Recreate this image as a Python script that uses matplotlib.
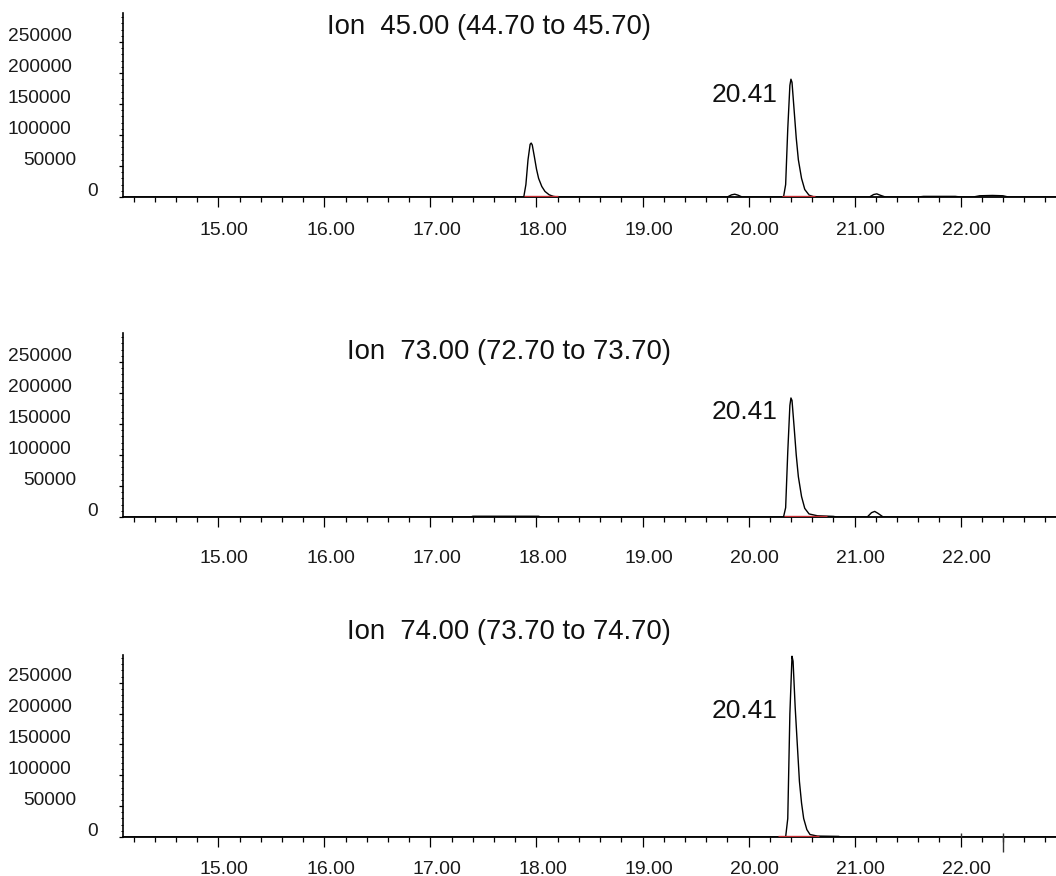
import matplotlib
matplotlib.use("Agg")
import matplotlib.pyplot as plt
from matplotlib.transforms import ScaledTranslation
from matplotlib.ticker import MultipleLocator

plt.rcParams['font.family'] = ['Liberation Sans', 'DejaVu Sans']

titles = ['Ion  45.00 (44.70 to 45.70)', 'Ion  73.00 (72.70 to 73.70)', 'Ion  74.00 (73.70 to 74.70)']

rt_45 = [14.10, 17.88, 17.90, 17.92, 17.94, 17.95, 17.96, 17.98, 18.00, 18.02, 18.05, 18.08, 18.12, 18.16, 18.20,
         19.80, 19.84, 19.87, 19.90, 19.94,
         20.33, 20.35, 20.37, 20.39, 20.40, 20.41, 20.43, 20.45, 20.47, 20.50, 20.53, 20.57, 20.62,
         21.14, 21.18, 21.21, 21.24, 21.29, 21.60, 21.65, 21.95, 22.00,
         22.12, 22.18, 22.30, 22.40, 22.45, 22.90]
int_45 = [0, 0, 20000, 60000, 85000, 87000, 84000, 65000, 45000, 30000, 17000, 9000, 3500, 1000, 0,
          0, 3500, 4500, 3000, 0,
          0, 20000, 110000, 180000, 190000, 185000, 140000, 95000, 60000, 30000, 12000, 3000, 0,
          0, 4000, 5000, 3000, 0, 0, 1000, 1000, 0,
          0, 2000, 2500, 2000, 0, 0]

rt_73 = [14.10, 17.38, 17.40, 18.02, 18.04,
         20.33, 20.35, 20.37, 20.39, 20.40, 20.41, 20.43, 20.45, 20.47, 20.50, 20.53, 20.57, 20.65, 20.80, 20.83,
         21.12, 21.16, 21.19, 21.22, 21.27, 22.90]
int_73 = [0, 0, 1200, 1200, 0,
          0, 15000, 105000, 180000, 192000, 188000, 145000, 100000, 65000, 33000, 14000, 5000, 2000, 1000, 0,
          0, 7000, 9000, 6000, 0, 0]

rt_74 = [14.10, 20.35, 20.37, 20.39, 20.41, 20.42, 20.44, 20.46, 20.48, 20.50, 20.52, 20.55, 20.58, 20.65,
         20.85, 20.87, 22.90]
int_74 = [0, 0, 30000, 200000, 293000, 285000, 210000, 150000, 90000, 55000, 30000, 12000, 4000, 1500,
          1000, 0, 0]

traces = [(rt_45, int_45), (rt_73, int_73), (rt_74, int_74)]

# integrated peak baselines (start, end)
baselines = [[(17.88, 18.20), (20.32, 20.63)],
             [(20.33, 20.74)],
             [(20.28, 20.66)]]

peak_rt = ['20.41', '20.41', '20.41']
label_y = [164500, 169000, 205000]
event_marks = [[], [], [22.0, 22.4]]

ymax = [296800, 296800, 295000]
yticks = [0, 50000, 100000, 150000, 200000, 250000]
xticks = [15, 16, 17, 18, 19, 20, 21, 22]

# layout in pixels (bottom of axes, height), title placement
ax_rect = [(197, 184), (517, 184), (837, 182)]
title_pos = [(0.2186, 0.924), (0.2401, 0.897), (0.2401, 1.126)]
xlab_pad = [10.5, 16.5, 9.5]

fig = plt.figure(figsize=(10.56, 8.76), dpi=100)

for i in range(3):
    base, h = ax_rect[i]
    ax = fig.add_axes([123 / 1056, (876 - base) / 876, 933 / 1056, h / 876])
    rt, inten = traces[i]
    ax.plot(rt, inten, color='black', lw=1.0, zorder=3)
    for s, e in baselines[i]:
        ax.plot([s, e], [0, 0], color='#c0282d', lw=2.4, zorder=4, solid_capstyle='butt')
    for m in event_marks[i]:
        ax.vlines(m, -24000 if m > 22.1 else 0, 7000, color='#333333', lw=1.0, clip_on=False, zorder=5)

    ax.set_xlim(14.1, 22.9)
    ax.set_ylim(0, ymax[i])
    for sp in ['top', 'right']:
        ax.spines[sp].set_visible(False)
    ax.spines['left'].set_linewidth(1.2)
    ax.spines['bottom'].set_linewidth(1.3)

    ax.set_xticks(xticks)
    ax.set_xticklabels(['%.2f' % v for v in xticks])
    ax.xaxis.set_minor_locator(MultipleLocator(0.2))
    ax.set_yticks(yticks)
    ax.set_yticklabels([str(v) for v in yticks])
    ax.yaxis.set_minor_locator(MultipleLocator(10000))

    ax.tick_params(axis='x', which='major', direction='out', length=7.5, width=0.9,
                   labelsize=14, pad=xlab_pad[i], labelcolor='#1a1a1a')
    ax.tick_params(axis='x', which='minor', direction='out', length=3.8, width=0.9)
    ax.tick_params(axis='y', which='major', direction='out', length=3, width=0.9,
                   labelsize=13.8, pad=34, labelcolor='#1a1a1a')
    ax.tick_params(axis='y', which='minor', direction='out', length=1.5, width=0.7)

    for lab in ax.get_xticklabels():
        lab.set_transform(lab.get_transform() + ScaledTranslation(0.06, 0, fig.dpi_scale_trans))
    ydx = [26, 5, 0, 0, 0, 0]
    for lab, dx in zip(ax.get_yticklabels(), ydx):
        lab.set_transform(lab.get_transform() + ScaledTranslation(dx / 100, 0.08, fig.dpi_scale_trans))

    ax.text(20.27, label_y[i], peak_rt[i], ha='right', va='center', fontsize=19, color='#111111')
    ax.text(title_pos[i][0], title_pos[i][1], titles[i], transform=ax.transAxes,
            ha='left', va='center', fontsize=19.8, color='#111111', clip_on=False)

fig.savefig('out.png', dpi=100)
